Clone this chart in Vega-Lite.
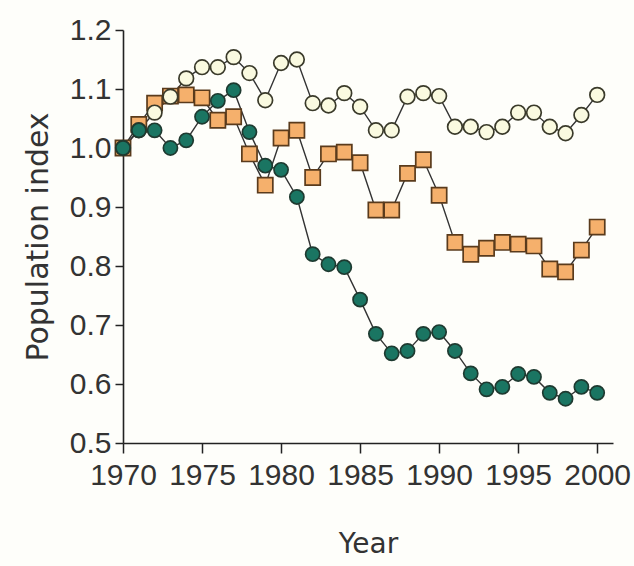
{
  "$schema": "https://vega.github.io/schema/vega-lite/v6.json",
  "width": 490,
  "height": 413,
  "autosize": {"type": "none"},
  "padding": {"left": 123, "top": 30, "right": 21, "bottom": 123},
  "background": "#fefefa",
  "config": {
    "view": {"stroke": null},
    "axis": {
      "labelFont": "Liberation Sans",
      "titleFont": "DejaVu Sans",
      "labelFontSize": 30,
      "titleFontSize": 28,
      "titleFontWeight": "normal",
      "labelColor": "#333333",
      "titleColor": "#333333",
      "domainColor": "#222",
      "domainWidth": 1.6,
      "tickColor": "#222",
      "tickWidth": 1.5,
      "labelOverlap": false,
      "labelFlush": false,
      "grid": false
    }
  },
  "data": {
    "values": [
      {"series": "O", "year": 1970, "index": 1.0},
      {"series": "O", "year": 1971, "index": 1.04},
      {"series": "O", "year": 1972, "index": 1.076},
      {"series": "O", "year": 1973, "index": 1.088},
      {"series": "O", "year": 1974, "index": 1.09},
      {"series": "O", "year": 1975, "index": 1.085},
      {"series": "O", "year": 1976, "index": 1.047},
      {"series": "O", "year": 1977, "index": 1.053},
      {"series": "O", "year": 1978, "index": 0.99},
      {"series": "O", "year": 1979, "index": 0.937},
      {"series": "O", "year": 1980, "index": 1.017},
      {"series": "O", "year": 1981, "index": 1.03},
      {"series": "O", "year": 1982, "index": 0.95},
      {"series": "O", "year": 1983, "index": 0.99},
      {"series": "O", "year": 1984, "index": 0.993},
      {"series": "O", "year": 1985, "index": 0.975},
      {"series": "O", "year": 1986, "index": 0.895},
      {"series": "O", "year": 1987, "index": 0.895},
      {"series": "O", "year": 1988, "index": 0.957},
      {"series": "O", "year": 1989, "index": 0.98},
      {"series": "O", "year": 1990, "index": 0.92},
      {"series": "O", "year": 1991, "index": 0.84},
      {"series": "O", "year": 1992, "index": 0.82},
      {"series": "O", "year": 1993, "index": 0.83},
      {"series": "O", "year": 1994, "index": 0.84},
      {"series": "O", "year": 1995, "index": 0.837},
      {"series": "O", "year": 1996, "index": 0.834},
      {"series": "O", "year": 1997, "index": 0.795},
      {"series": "O", "year": 1998, "index": 0.79},
      {"series": "O", "year": 1999, "index": 0.827},
      {"series": "O", "year": 2000, "index": 0.866},
      {"series": "W", "year": 1970, "index": 1.0},
      {"series": "W", "year": 1971, "index": 1.03},
      {"series": "W", "year": 1972, "index": 1.06},
      {"series": "W", "year": 1973, "index": 1.087},
      {"series": "W", "year": 1974, "index": 1.118},
      {"series": "W", "year": 1975, "index": 1.137},
      {"series": "W", "year": 1976, "index": 1.137},
      {"series": "W", "year": 1977, "index": 1.154},
      {"series": "W", "year": 1978, "index": 1.127},
      {"series": "W", "year": 1979, "index": 1.081},
      {"series": "W", "year": 1980, "index": 1.144},
      {"series": "W", "year": 1981, "index": 1.15},
      {"series": "W", "year": 1982, "index": 1.076},
      {"series": "W", "year": 1983, "index": 1.072},
      {"series": "W", "year": 1984, "index": 1.093},
      {"series": "W", "year": 1985, "index": 1.07},
      {"series": "W", "year": 1986, "index": 1.03},
      {"series": "W", "year": 1987, "index": 1.03},
      {"series": "W", "year": 1988, "index": 1.087},
      {"series": "W", "year": 1989, "index": 1.093},
      {"series": "W", "year": 1990, "index": 1.088},
      {"series": "W", "year": 1991, "index": 1.036},
      {"series": "W", "year": 1992, "index": 1.036},
      {"series": "W", "year": 1993, "index": 1.027},
      {"series": "W", "year": 1994, "index": 1.036},
      {"series": "W", "year": 1995, "index": 1.06},
      {"series": "W", "year": 1996, "index": 1.06},
      {"series": "W", "year": 1997, "index": 1.036},
      {"series": "W", "year": 1998, "index": 1.025},
      {"series": "W", "year": 1999, "index": 1.056},
      {"series": "W", "year": 2000, "index": 1.09},
      {"series": "G", "year": 1970, "index": 1.0},
      {"series": "G", "year": 1971, "index": 1.03},
      {"series": "G", "year": 1972, "index": 1.03},
      {"series": "G", "year": 1973, "index": 1.0},
      {"series": "G", "year": 1974, "index": 1.013},
      {"series": "G", "year": 1975, "index": 1.053},
      {"series": "G", "year": 1976, "index": 1.08},
      {"series": "G", "year": 1977, "index": 1.098},
      {"series": "G", "year": 1978, "index": 1.027},
      {"series": "G", "year": 1979, "index": 0.97},
      {"series": "G", "year": 1980, "index": 0.963},
      {"series": "G", "year": 1981, "index": 0.917},
      {"series": "G", "year": 1982, "index": 0.82},
      {"series": "G", "year": 1983, "index": 0.803},
      {"series": "G", "year": 1984, "index": 0.798},
      {"series": "G", "year": 1985, "index": 0.743},
      {"series": "G", "year": 1986, "index": 0.685},
      {"series": "G", "year": 1987, "index": 0.652},
      {"series": "G", "year": 1988, "index": 0.656},
      {"series": "G", "year": 1989, "index": 0.685},
      {"series": "G", "year": 1990, "index": 0.688},
      {"series": "G", "year": 1991, "index": 0.656},
      {"series": "G", "year": 1992, "index": 0.618},
      {"series": "G", "year": 1993, "index": 0.591},
      {"series": "G", "year": 1994, "index": 0.595},
      {"series": "G", "year": 1995, "index": 0.617},
      {"series": "G", "year": 1996, "index": 0.612},
      {"series": "G", "year": 1997, "index": 0.585},
      {"series": "G", "year": 1998, "index": 0.575},
      {"series": "G", "year": 1999, "index": 0.595},
      {"series": "G", "year": 2000, "index": 0.585}
    ]
  },
  "encoding": {
    "x": {
      "field": "year",
      "type": "quantitative",
      "scale": {"domain": [1970, 2001], "nice": false, "zero": false},
      "axis": {
        "title": "Year",
        "values": [1970, 1975, 1980, 1985, 1990, 1995, 2000],
        "format": "d",
        "tickSize": 10,
        "labelPadding": 7,
        "titlePadding": 40
      }
    },
    "y": {
      "field": "index",
      "type": "quantitative",
      "scale": {"domain": [0.5, 1.2], "nice": false, "zero": false},
      "axis": {
        "title": "Population index",
        "titleFontSize": 30,
        "values": [0.5, 0.6, 0.7, 0.8, 0.9, 1.0, 1.1, 1.2],
        "format": ".1f",
        "tickSize": 8,
        "labelPadding": 4,
        "titlePadding": 16
      }
    }
  },
  "layer": [
    {
      "mark": {"type": "line", "color": "#333333", "strokeWidth": 1.4},
      "encoding": {"detail": {"field": "series", "type": "nominal"}}
    },
    {
      "mark": {"type": "point", "filled": true, "strokeWidth": 1.7, "opacity": 1},
      "encoding": {
        "shape": {
          "field": "series", "type": "nominal",
          "scale": {"domain": ["O", "W", "G"], "range": ["square", "circle", "circle"]},
          "legend": null
        },
        "size": {
          "field": "series", "type": "nominal",
          "scale": {"domain": ["O", "W", "G"], "range": [230, 200, 260]},
          "legend": null
        },
        "fill": {
          "field": "series", "type": "nominal",
          "scale": {"domain": ["O", "W", "G"], "range": ["#f5b06c", "#fafae0", "#1a7562"]},
          "legend": null
        },
        "stroke": {
          "field": "series", "type": "nominal",
          "scale": {"domain": ["O", "W", "G"], "range": ["#5a3b1c", "#3a3a2a", "#1e3a30"]},
          "legend": null
        }
      }
    }
  ]
}
